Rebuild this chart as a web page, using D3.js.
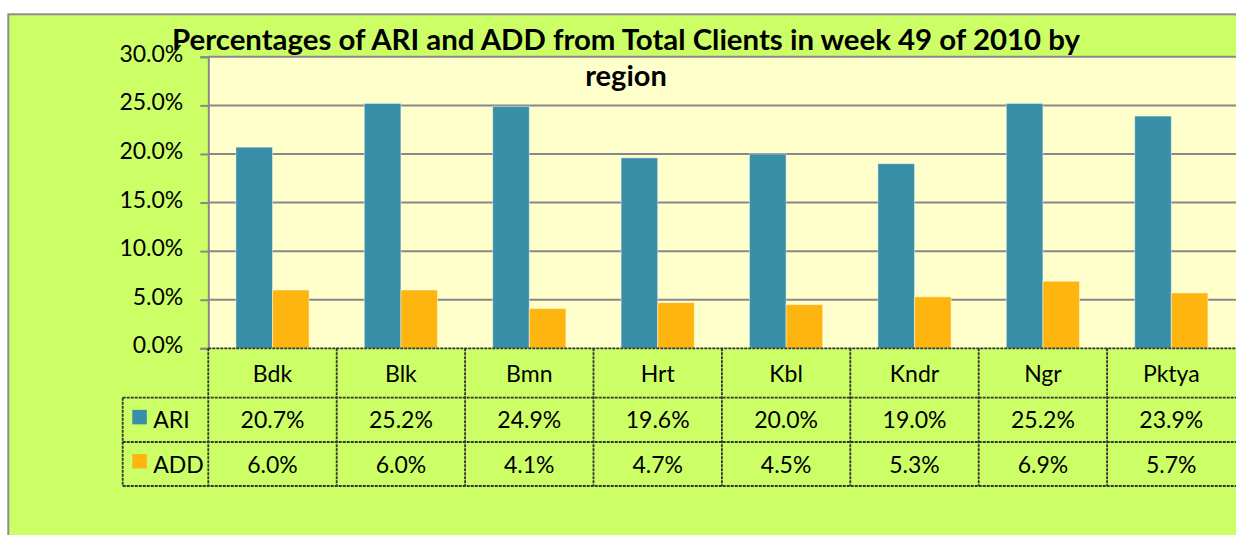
<!DOCTYPE html>
<html>
<head>
<meta charset="utf-8">
<script src="https://cdn.jsdelivr.net/npm/d3@7"></script>
<style>
  html, body { margin: 0; padding: 0; overflow: hidden; background: #ffffff; }
  svg { display: block; }
  text { font-family: Lato, "Liberation Sans", sans-serif; fill: #000; }
</style>
</head>
<body>
<script>
// data
var regions = ["Bdk", "Blk", "Bmn", "Hrt", "Kbl", "Kndr", "Ngr", "Pktya"];
var seriesNames = ["ARI", "ADD"];
var ariValues = [0.207, 0.252, 0.249, 0.196, 0.200, 0.190, 0.252, 0.239];
var addValues = [0.060, 0.060, 0.041, 0.047, 0.045, 0.053, 0.069, 0.057];
var yTicks = [0, 0.05, 0.10, 0.15, 0.20, 0.25, 0.30];
var titleLines = ["Percentages of ARI and ADD from Total Clients in week 49 of 2010 by", "region"];

var seriesColors = {ARI: "#3a8fa8", ADD: "#ffb50f"};
var seriesValues = {ARI: ariValues, ADD: addValues};

var svgWidth = 1236, svgHeight = 535;
var plot = {left: 208.3, top: 56.8, bottom: 348.3, catW: 128.4};
var rowY = [348.3, 397.7, 442, 486]; // table row edges
var legendLeft = 122.7;
var labelSize = 23;

var svg = d3.select("body").append("svg")
  .attr("width", svgWidth)
  .attr("height", svgHeight);

// chart area background + border
svg.append("rect")
  .attr("x", 8.3).attr("y", 14.3)
  .attr("width", svgWidth + 20).attr("height", svgHeight + 20)
  .attr("fill", "#ccff66")
  .attr("stroke", "#8c8c8c").attr("stroke-width", 2);

var x0 = d3.scaleBand()
  .domain(regions)
  .range([plot.left, plot.left + plot.catW * regions.length]);

var x1 = d3.scaleBand()
  .domain(seriesNames)
  .range([0, x0.bandwidth()])
  .paddingOuter(0.754);

var y = d3.scaleLinear()
  .domain([0, 0.30])
  .range([plot.bottom, plot.top]);

// plot background
svg.append("rect")
  .attr("x", plot.left).attr("y", plot.top)
  .attr("width", plot.catW * regions.length + 10)
  .attr("height", plot.bottom - plot.top)
  .attr("fill", "#ffffcc");

// gridlines
svg.append("g").selectAll("line.grid")
  .data(yTicks.slice(1))
  .enter().append("line")
  .attr("class", "grid")
  .attr("x1", plot.left).attr("x2", svgWidth + 10)
  .attr("y1", function(d) { return y(d); })
  .attr("y2", function(d) { return y(d); })
  .attr("stroke", "#888").attr("stroke-width", 2);

// y axis
var yAxis = svg.append("g")
  .attr("transform", "translate(" + plot.left + ",0)")
  .call(d3.axisLeft(y).tickValues(yTicks).tickFormat(d3.format(".1%")).tickSize(8).tickPadding(17));
yAxis.select(".domain").attr("stroke", "#888").attr("stroke-width", 2);
yAxis.selectAll(".tick line").attr("stroke", "#888").attr("stroke-width", 2);
yAxis.selectAll(".tick text")
  .attr("font-family", "Lato, sans-serif")
  .attr("font-size", labelSize)
  .attr("dy", "0.2em")
  .attr("fill", "#000");

// bars
var groups = svg.append("g").selectAll("g.region")
  .data(regions)
  .enter().append("g")
  .attr("class", "region")
  .attr("transform", function(d) { return "translate(" + x0(d) + ",0)"; });

groups.selectAll("rect")
  .data(function(d, i) {
    return seriesNames.map(function(s) { return {key: s, value: seriesValues[s][i]}; });
  })
  .enter().append("rect")
  .attr("x", function(d) { return x1(d.key); })
  .attr("width", x1.bandwidth())
  .attr("y", function(d) { return y(d.value); })
  .attr("height", function(d) { return plot.bottom - y(d.value); })
  .attr("fill", function(d) { return seriesColors[d.key]; })
  .attr("stroke", "rgba(255,255,255,0.45)").attr("stroke-width", 1);

// data table
var table = svg.append("g");
var lineStyle = function(sel) {
  sel.attr("stroke", "#333").attr("stroke-width", 1.8).attr("stroke-dasharray", "3,1");
};

// horizontal lines
table.append("line").attr("x1", plot.left).attr("x2", svgWidth + 10)
  .attr("y1", rowY[0]).attr("y2", rowY[0]).call(lineStyle);
rowY.slice(1).forEach(function(yy) {
  table.append("line").attr("x1", legendLeft).attr("x2", svgWidth + 10)
    .attr("y1", yy).attr("y2", yy).call(lineStyle);
});
// vertical lines
table.append("line").attr("x1", legendLeft).attr("x2", legendLeft)
  .attr("y1", rowY[1]).attr("y2", rowY[3]).call(lineStyle);
table.selectAll("line.vcell")
  .data(regions)
  .enter().append("line")
  .attr("class", "vcell")
  .attr("x1", function(d) { return x0(d); })
  .attr("x2", function(d) { return x0(d); })
  .attr("y1", rowY[0]).attr("y2", rowY[3])
  .call(lineStyle);

// header row
table.selectAll("text.cat")
  .data(regions)
  .enter().append("text")
  .attr("class", "cat")
  .attr("x", function(d) { return x0(d) + x0.bandwidth() / 2; })
  .attr("y", (rowY[0] + rowY[1]) / 2 + 8.5)
  .attr("text-anchor", "middle")
  .attr("font-size", labelSize)
  .text(function(d) { return d; });

// value rows + legend keys
seriesNames.forEach(function(s, si) {
  var cy = (rowY[si + 1] + rowY[si + 2]) / 2;
  table.append("rect")
    .attr("x", 132.3).attr("y", cy - 10)
    .attr("width", 14.5).attr("height", 14.5)
    .attr("fill", seriesColors[s]);
  table.append("text")
    .attr("x", 153.3).attr("y", cy + 8.5)
    .attr("font-size", labelSize)
    .text(s);
  table.selectAll("text.v" + s)
    .data(seriesValues[s])
    .enter().append("text")
    .attr("class", "v" + s)
    .attr("x", function(d, i) { return x0(regions[i]) + x0.bandwidth() / 2; })
    .attr("y", cy + 8.5)
    .attr("text-anchor", "middle")
    .attr("font-size", labelSize)
    .text(function(d) { return d3.format(".1%")(d); });
});

// title (first line squeezed to the reference width)
var title = svg.append("g");
title.append("text")
  .attr("x", 626).attr("y", 50)
  .attr("text-anchor", "middle")
  .attr("font-weight", "bold")
  .attr("font-size", 29)
  .attr("textLength", 908)
  .attr("lengthAdjust", "spacingAndGlyphs")
  .text(titleLines[0]);
title.append("text")
  .attr("x", 626).attr("y", 86)
  .attr("text-anchor", "middle")
  .attr("font-weight", "bold")
  .attr("font-size", 29)
  .text(titleLines[1]);
</script>
</body>
</html>
